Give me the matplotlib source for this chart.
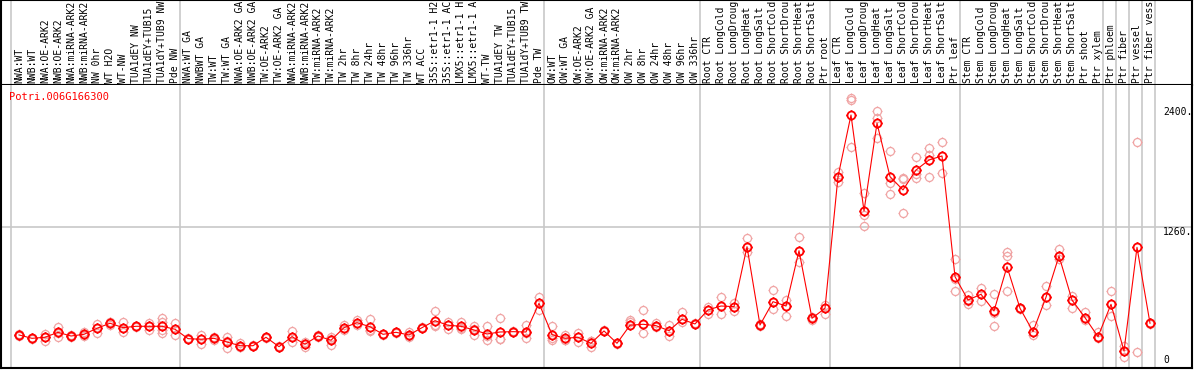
# -*- coding: utf-8 -*-

import numpy as np
import matplotlib
matplotlib.use('Agg')
import matplotlib.pyplot as plt
import matplotlib.transforms as mtransforms
from matplotlib.path import Path

# Données
gene = "Potri.006G166300"

samples = [
    "NWA:WT", "NWB:WT", "NWA:OE-ARK2", "NWB:OE-ARK2", "NWA:miRNA-ARK2",
    "NWB:miRNA-ARK2", "NW 0hr", "WT H2O", "WT-NW", "TUA1dEY NW",
    "TUA1dEY+TUB15", "TUA1dY+TUB9 NW", "Pde NW",
    "NWA:WT GA", "NWBWT GA", "TW:WT", "TW:WT GA", "NWA:OE-ARK2 GA",
    "NWB:OE-ARK2 GA", "TW:OE-ARK2", "TW:OE-ARK2 GA", "NWA:miRNA-ARK2",
    "NWB:miRNA-ARK2", "TW:miRNA-ARK2", "TW:miRNA-ARK2", "TW 2hr", "TW 8hr",
    "TW 24hr", "TW 48hr", "TW 96hr", "TW 336hr", "WT ACC", "35S::etr1-1 H2",
    "35S::etr1-1 AC", "LMX5::etr1-1 H", "LMX5::etr1-1 A", "WT-TW",
    "TUA1dEY TW", "TUA1dEY+TUB15", "TUA1dY+TUB9 TW", "Pde TW",
    "OW:WT", "OW:WT GA", "OW:OE-ARK2", "OW:OE-ARK2 GA", "OW:miRNA-ARK2",
    "OW:miRNA-ARK2", "OW 2hr", "OW 8hr", "OW 24hr", "OW 48hr", "OW 96hr",
    "OW 336hr",
    "Root CTR", "Root LongCold", "Root LongDroug", "Root LongHeat",
    "Root LongSalt", "Root ShortCold", "Root ShortDrou", "Root ShortHeat",
    "Root ShortSalt", "Ptr root",
    "Leaf CTR", "Leaf LongCold", "Leaf LongDroug", "Leaf LongHeat",
    "Leaf LongSalt", "Leaf ShortCold", "Leaf ShortDrou", "Leaf ShortHeat",
    "Leaf ShortSalt", "Ptr leaf",
    "Stem CTR", "Stem LongCold", "Stem LongDroug", "Stem LongHeat",
    "Stem LongSalt", "Stem ShortCold", "Stem ShortDrou", "Stem ShortHeat",
    "Stem ShortSalt", "Ptr shoot", "Ptr xylem",
    "Ptr phloem", "Ptr fiber", "Ptr vessel", "Ptr fiber vess",
]

means = [
    237, 205, 215, 262, 227, 243, 300, 348, 306, 319, 319, 319, 291,
    202, 196, 205, 170, 135, 135, 215, 126, 221, 149, 227, 187, 306, 353,
    315, 243, 262, 237, 306, 372, 329, 319, 284, 246, 265, 268, 265, 537,
    240, 205, 215, 158, 275, 158, 329, 338, 325, 277, 385, 341,
    474, 511, 505, 1073, 331, 552, 511, 1035, 395, 490,
    1736, 2320, 1411, 2242, 1736, 1610, 1799, 1894, 1932, 789,
    568, 622, 464, 884, 490, 268, 594, 985, 568, 401, 221,
    527, 85, 1067, 348,
]

reps = [
    [230, 237, 244], [200, 205, 210], [218, 180, 247], [312, 218, 256],
    [222, 227, 232], [265, 227, 237], [341, 256, 303], [355, 330, 360],
    [360, 265, 300], [319, 326, 312], [350, 284, 320], [398, 360, 284, 256],
    [350, 237, 290],
    [196, 202, 208], [237, 152, 200], [218, 189, 208], [218, 114, 178],
    [161, 123, 122], [130, 135, 140], [210, 215, 220], [120, 126, 132],
    [275, 170, 218], [170, 123, 154], [222, 227, 232], [218, 142, 200],
    [331, 284, 303], [379, 331, 350], [388, 275, 282], [238, 243, 248],
    [257, 262, 267], [265, 218, 228], [301, 306, 311], [464, 322, 330],
    [360, 294, 333], [360, 294, 303], [322, 237, 293], [322, 189, 227],
    [398, 199, 198], [263, 268, 273], [331, 208, 256], [597, 474, 540],
    [322, 208, 190], [237, 189, 189], [256, 218, 171], [123, 175, 176],
    [270, 275, 280], [153, 158, 163], [379, 360, 329], [474, 256, 338],
    [350, 312, 325], [331, 227, 277], [455, 360, 385], [336, 341, 346],
    [502, 436, 474], [600, 433, 511], [540, 467, 505], [1152, 1026, 1073],
    [320, 331, 340], [663, 480, 552], [568, 417, 511], [1168, 931, 1035],
    [379, 395, 405], [521, 433, 490],
    [1783, 1689, 1736], [2478, 2462, 2020], [1579, 1373, 1269],
    [2358, 2289, 2100], [1979, 1673, 1569], [1721, 1711, 1389],
    [1920, 1721, 1760], [2005, 1941, 1730], [2062, 1768, 1932],
    [954, 764, 653],
    [616, 527, 560], [622, 559, 679], [622, 442, 322], [1026, 985, 653],
    [485, 490, 495], [331, 237, 268], [701, 521, 594], [1048, 985, 960],
    [606, 490, 568], [457, 379, 401], [268, 205, 221],
    [653, 417, 527], [133, 31, 85], [2062, 79, 1067], [343, 348, 353],
]

# dernier échantillon de chaque groupe (-1 : bord gauche)
group_ends = [-1, 12, 40, 52, 62, 72, 83, 84, 85, 86, 87]
ytick_values = [0, 1260, 2400]
ytick_labels = ["0", "1260.", "2400."]


def marqueur_cercle():
    """Cercle avec quatre petites encoches (style du graphique d'origine)."""
    c = Path.unit_circle()
    verts = list(c.vertices)
    codes = list(c.codes)
    for dx, dy in [(1, 0), (-1, 0), (0, 1), (0, -1)]:
        verts += [(dx, dy), (1.25 * dx, 1.25 * dy)]
        codes += [Path.MOVETO, Path.LINETO]
    return Path(verts, codes)


W, H = 1194, 370
mono = "DejaVu Sans Mono"
gris = "#c8c8c8"

fig = plt.figure(figsize=(W / 100, H / 100), dpi=100)
ax_h = fig.add_axes([1 / W, (H - 85) / H, 1191 / W, 85 / H])
ax = fig.add_axes([1 / W, 2 / H, 1191 / W, 283 / H])

x = np.arange(len(samples))
xmin, xmax = (1 - 19) / 13, (1192 - 19) / 13
for a in (ax, ax_h):
    a.set_xlim(xmin, xmax)
    a.set_xticks([])
    a.set_yticks([])
    for e in group_ends:
        a.axvline(e + 0.4, color=gris, lw=1.2, zorder=0)
    for s in a.spines.values():
        s.set_color("black")
        s.set_linewidth(1.5)

ax_h.set_ylim(0, 85)
ax.set_ylim(-76, 2604)
ax.spines["top"].set_visible(False)

# étiquettes des échantillons
for i, nom in enumerate(samples):
    ax_h.text(i, 2, nom, rotation=90, ha="center", va="bottom",
              family=mono, fontsize=7, clip_on=False)

# grille horizontale
ax.axhline(1260, color=gris, lw=1.2, zorder=0)

# réplicats
m = marqueur_cercle()
for i, r in enumerate(reps):
    ax.plot([i] * len(r), r, linestyle="none", marker=m, markersize=7.2,
            markerfacecolor="none", markeredgecolor="#f0a4a4",
            markeredgewidth=0.9, zorder=2)

# moyennes
ax.plot(x, means, color="red", lw=0.8, zorder=3)
ax.plot(x, means, linestyle="none", marker=m, markersize=7.2,
        markerfacecolor="none", markeredgecolor="red",
        markeredgewidth=1.3, zorder=4)

# valeurs de l'axe à droite
trans = mtransforms.blended_transform_factory(ax.transAxes, ax.transData)
for v, lab in zip(ytick_values, ytick_labels):
    ax.text((1163 - 1) / 1191, v, lab, transform=trans, ha="left",
            va="center" if v == 0 else "top",
            family=mono, fontsize=7, clip_on=False)

ax.text(8 / 1191, 1 - 7 / 283, gene, transform=ax.transAxes, ha="left",
        va="top", family=mono, fontsize=7.5, color="red")

fig.savefig("out.png", dpi=100)
